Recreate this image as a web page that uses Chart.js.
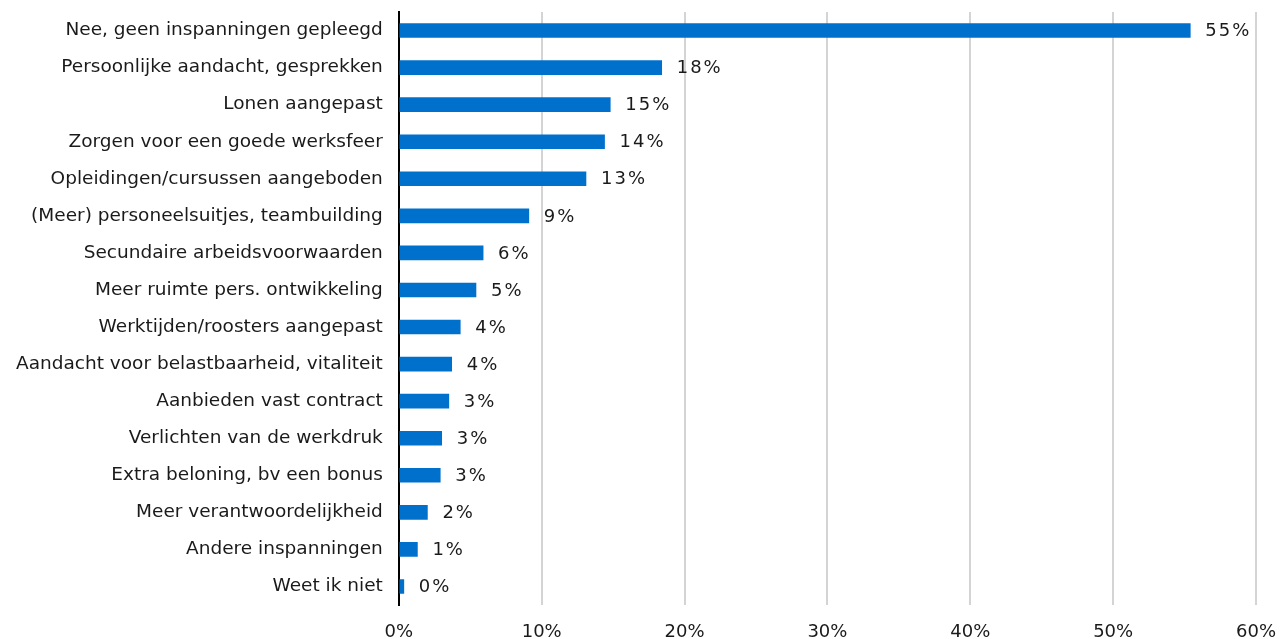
<!DOCTYPE html>
<html><head><meta charset="utf-8">
<script src="https://cdn.jsdelivr.net/npm/chart.js@4/dist/chart.umd.min.js"></script>
<style>html,body{margin:0;padding:0;background:#fff;}#wrap{width:1281px;height:639px;position:relative;}</style>
</head><body><div id="wrap"><canvas id="c" width="1281" height="639"></canvas></div>
<script>
const categories = ["Nee, geen inspanningen gepleegd","Persoonlijke aandacht, gesprekken","Lonen aangepast","Zorgen voor een goede werksfeer","Opleidingen/cursussen aangeboden","(Meer) personeelsuitjes, teambuilding","Secundaire arbeidsvoorwaarden","Meer ruimte pers. ontwikkeling","Werktijden/roosters aangepast","Aandacht voor belastbaarheid, vitaliteit","Aanbieden vast contract","Verlichten van de werkdruk","Extra beloning, bv een bonus","Meer verantwoordelijkheid","Andere inspanningen","Weet ik niet"];
const values = [55.4, 18.4, 14.8, 14.4, 13.1, 9.1, 5.9, 5.4, 4.3, 3.7, 3.5, 3.0, 2.9, 2.0, 1.3, 0.35];
const valueLabels = ["55%","18%","15%","14%","13%","9%","6%","5%","4%","4%","3%","3%","3%","2%","1%","0%"];
const xTicks = [0,10,20,30,40,50,60];

const FONT = "'DejaVu Sans', Verdana, sans-serif";
const labelPlugin = {
  id: 'valLabels',
  afterDatasetsDraw(chart) {
    const ctx = chart.ctx;
    const meta = chart.getDatasetMeta(0);
    ctx.save();
    ctx.font = "18px " + FONT;
    ctx.fillStyle = '#1a1a1a';
    ctx.textBaseline = 'middle';
    ctx.textAlign = 'left';
    try { ctx.letterSpacing = '2px'; } catch(e) {}
    meta.data.forEach((bar, i) => {
      ctx.fillText(valueLabels[i], bar.x + 15, bar.y + 1);
    });
    ctx.restore();
  }
};

new Chart(document.getElementById('c'), {
  type: 'bar',
  data: { labels: categories, datasets: [{ data: values, backgroundColor: '#0070cd', barThickness: 14 }] },
  options: {
    indexAxis: 'y', responsive: false, animation: false,
    layout: { padding: { top: 12, right: 25, left: 0, bottom: 0 } },
    plugins: { legend: { display: false }, tooltip: { enabled: false } },
    scales: {
      x: {
        min: 0, max: 60,
        afterBuildTicks(s) { s.ticks = xTicks.map(v => ({ value: v })); },
        afterFit(s) { s.paddingRight = 0; s.paddingLeft = 0; s.paddingBottom = 0; s.paddingTop = 0; s.height = 34; },
        grid: { color: '#d4d4d4', lineWidth: 2, drawTicks: false },
        border: { display: false },
        ticks: { color: '#1a1a1a', font: { family: FONT, size: 18 }, padding: 17, callback: v => v + '%' }
      },
      y: {
        afterFit(s) { s.paddingTop = 0; s.paddingBottom = 0; },
        grid: { display: false, drawTicks: false },
        border: { display: true, color: '#000', width: 2 },
        ticks: { color: '#1a1a1a', font: { family: FONT, size: 18.5 }, padding: 16 }
      }
    }
  },
  plugins: [labelPlugin]
});
</script></body></html>
